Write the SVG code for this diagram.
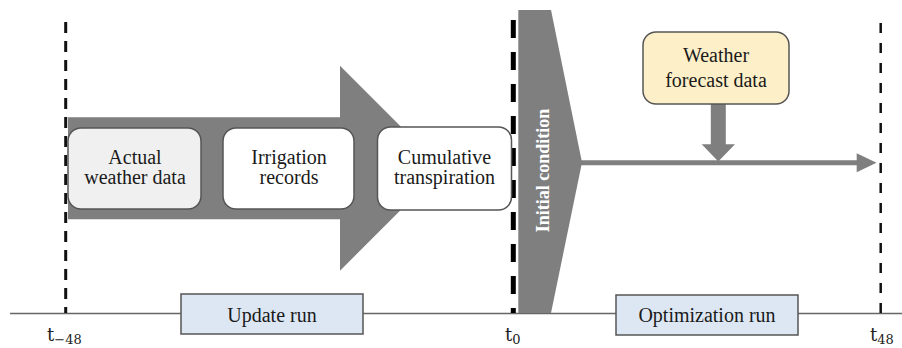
<svg xmlns="http://www.w3.org/2000/svg" width="902" height="348" viewBox="0 0 902 348">
<style>
.txt{font-family:"Liberation Serif","Times New Roman",serif;font-size:20px;fill:#1a1a1a;text-anchor:middle}
.box{stroke:#555;stroke-width:1.5}
.gray{fill:#7f7f7f}
.tl{font-family:"DejaVu Serif","Liberation Serif",serif;font-size:18px;fill:#222}
.sub{font-size:13px}
</style>
<rect width="902" height="348" fill="#fff"/>
<g id="connectors">
<line x1="10" y1="313.5" x2="902" y2="313.5" stroke="#666" stroke-width="1.5"/>
<line x1="65.7" y1="22" x2="65.7" y2="313" stroke="#111" stroke-width="3" stroke-dasharray="11 8"/>
<line x1="880.7" y1="23" x2="880.7" y2="313" stroke="#111" stroke-width="2.5" stroke-dasharray="10 10"/>
<polygon class="gray" points="68,117.3 340,117.3 340,65.7 442.5,168.3 340,270.7 340,219.3 68,219.3"/>
<polygon class="gray" points="518.3,10 551,10 582,162.5 551,313 518.3,313"/>
<line x1="580" y1="162.8" x2="858" y2="162.8" stroke="#7f7f7f" stroke-width="5"/>
<polygon class="gray" points="856.7,153.3 876.5,162.8 856.7,172.3"/>
<rect class="gray" x="710.8" y="103" width="15" height="42"/>
<polygon class="gray" points="701.7,144.3 735,144.3 718.3,161.5"/>
<line x1="513.3" y1="20" x2="513.3" y2="313" stroke="#000" stroke-width="5" stroke-dasharray="18 14"/>
</g>
<g id="actual">
<rect class="box" x="68" y="128" width="133" height="81" rx="13" fill="#f0f0f0"/>
<text class="txt" x="135" y="164">Actual</text>
<text class="txt" x="135" y="184">weather data</text>
</g>
<g id="irrigation">
<rect class="box" x="223" y="128" width="131" height="81" rx="13" fill="#fff"/>
<text class="txt" x="289" y="164">Irrigation</text>
<text class="txt" x="289" y="184">records</text>
</g>
<g id="cumulative">
<rect class="box" x="377.5" y="127" width="134" height="83" rx="13" fill="#fff"/>
<text class="txt" x="444.5" y="164">Cumulative</text>
<text class="txt" x="444.5" y="184">transpiration</text>
</g>
<g id="initial">
<text transform="translate(549,170.5) rotate(-90)" style="font-family:'Liberation Serif','Times New Roman',serif;font-size:18px;font-weight:bold;fill:#fff;text-anchor:middle">Initial condition</text>
</g>
<g id="forecast">
<rect class="box" x="643" y="32" width="146" height="72" rx="13" fill="#fdf0c8"/>
<text class="txt" x="716" y="62">Weather</text>
<text class="txt" x="716" y="86.5">forecast data</text>
</g>
<g id="update">
<rect class="box" x="181" y="294" width="182" height="40" fill="#dde7f4"/>
<text class="txt" x="272" y="321.5">Update run</text>
</g>
<g id="optimization">
<rect class="box" x="616" y="295" width="182" height="40" fill="#dde7f4"/>
<text class="txt" x="707" y="322">Optimization run</text>
</g>
<g id="labels">
<text class="tl" x="47" y="341">t<tspan class="sub" dy="3">−48</tspan></text>
<text class="tl" x="505" y="341">t<tspan class="sub" dy="3">0</tspan></text>
<text class="tl" x="870" y="341">t<tspan class="sub" dy="3">48</tspan></text>
</g>
</svg>
